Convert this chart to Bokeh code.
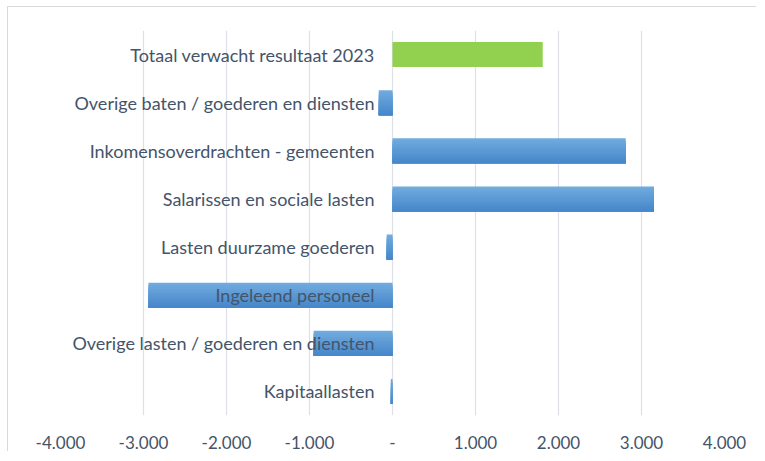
from bokeh.plotting import figure
from bokeh.models import FactorRange, Range1d, FixedTicker, ColumnDataSource, CDSView, IndexFilter
from bokeh.transform import dodge
from bokeh.core.properties import value
from bokeh.embed import file_html
from bokeh.resources import INLINE

categories = [
    "Totaal verwacht resultaat 2023",
    "Overige baten / goederen en diensten",
    "Inkomensoverdrachten - gemeenten",
    "Salarissen en sociale lasten",
    "Lasten duurzame goederen",
    "Ingeleend personeel",
    "Overige lasten / goederen en diensten",
    "Kapitaallasten",
]
values = [1810, -165, 2810, 3150, -70, -2940, -950, -20]
tick_values = [-4000, -3000, -2000, -1000, 0, 1000, 2000, 3000, 4000]
tick_labels = ["-4.000", "-3.000", "-2.000", "-1.000", "-", "1.000", "2.000", "3.000", "4.000"]

FONT = "Lato"
TEXT_COLOR = "#44546a"

p = figure(
    width=749, height=445,
    x_range=Range1d(-4000, 4000),
    y_range=FactorRange(factors=list(reversed(categories)), range_padding=0),
    output_backend="svg", toolbar_location=None,
    min_border_left=52, min_border_right=33, min_border_top=23, min_border_bottom=37,
)
p.styles = {"border-left": "1px solid #d9d9d9", "border-top": "1px solid #d9d9d9",
            "margin-left": "7px", "margin-top": "6px"}
p.outline_line_color = None
p.background_fill_color = "white"
p.border_fill_color = "white"

p.yaxis.visible = False
p.ygrid.grid_line_color = None
p.xgrid.grid_line_color = "#dde1e7"
p.xgrid.grid_line_width = 1.2
p.xaxis.ticker = FixedTicker(ticks=tick_values)
p.xaxis.major_label_overrides = {v: l for v, l in zip(tick_values, tick_labels)}
p.xaxis.axis_line_color = None
p.xaxis.major_tick_line_color = None
p.xaxis.minor_tick_line_color = None
p.xaxis.major_label_standoff = 14
p.xaxis.major_label_text_font = FONT
p.xaxis.major_label_text_font_size = "17px"
p.xaxis.major_label_text_color = TEXT_COLOR

src = ColumnDataSource(data=dict(cat=categories, val=values))
total_view = CDSView(filter=IndexFilter([0]))
other_view = CDSView(filter=IndexFilter(list(range(1, len(categories)))))

H = 0.52
p.hbar(y="cat", left=0, right="val", height=H, source=src, view=total_view,
       fill_color="#92d050", line_color=None)

N = 12
top_c = (0x70, 0xaa, 0xde)
bot_c = (0x47, 0x87, 0xcb)
for i in range(N):
    t = i / (N - 1)
    c = tuple(round(a + (b - a) * t) for a, b in zip(top_c, bot_c))
    col = "#%02x%02x%02x" % c
    top = H / 2 - i * H / N
    bottom = -H / 2
    p.hbar(y=dodge("cat", (top + bottom) / 2, range=p.y_range), left=0, right="val",
           height=top - bottom, source=src, view=other_view,
           fill_color=col, line_color=None)

p.text(x=0, y="cat", text="cat", source=src, x_offset=-18,
       text_align="right", text_baseline="middle",
       text_font=value(FONT), text_font_size="18px", text_color=TEXT_COLOR)

open("out.html", "w").write(file_html(p, INLINE))
